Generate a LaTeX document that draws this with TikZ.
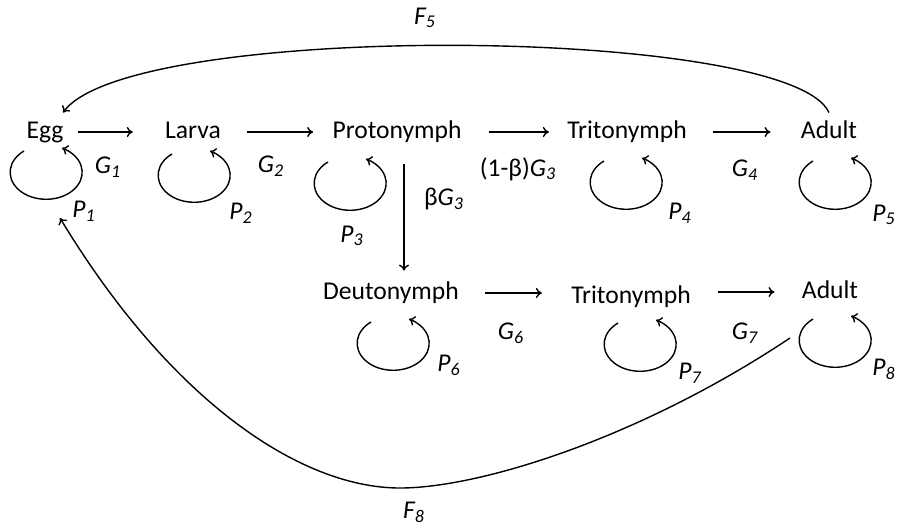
\documentclass[tikz,border=0pt]{standalone}
\usepackage{fontspec}
\setmainfont{Carlito}
\usetikzlibrary{arrows.meta}

\begin{document}
\begin{tikzpicture}[
  x=0.5pt, y=-0.5pt,
  stage/.style={font=\fontsize{12.8}{15}\selectfont, inner sep=0pt, text height=9pt, text depth=3pt},
  rate/.style={font=\fontsize{12.8}{15}\selectfont, inner sep=0pt},
  flow/.style={-{To[length=3pt,width=5pt]}, line width=0.7pt},
  loopy/.style={flow}
]
  \useasboundingbox (0,0) rectangle (898,526);
  % stages, upper row
  \node[stage] (egg)    at (45,132)  {Egg};
  \node[stage] (larva)  at (193,132) {Larva};
  \node[stage] (proto)  at (397,132) {Protonymph};
  \node[stage] (tritoA) at (627,132) {Tritonymph};
  \node[stage] (adultA) at (829,132) {Adult};
  % stages, lower row
  \node[stage] (deuto)  at (391,293) {Deutonymph};
  \node[stage] (tritoB) at (631,297) {Tritonymph};
  \node[stage] (adultB) at (830,292) {Adult};

  % growth
  \draw[flow, shorten <=7pt, shorten >=16pt] (egg.east) -- (larva.west);
  \draw[flow, shorten <=13pt, shorten >=9.5pt] (larva.east) -- (proto.west);
  \draw[flow, shorten <=13.5pt, shorten >=9pt] (proto.east) -- (tritoA.west);
  \draw[flow, shorten <=13pt, shorten >=15pt] (tritoA.east) -- (adultA.west);
  \draw[flow, shorten <=10pt, shorten >=5pt] ([xshift=3.5pt]proto.south) -- ([xshift=3.5pt]proto.south |- deuto.north);
  \draw[flow, shorten <=13pt, shorten >=14.5pt] (deuto.east) -- (deuto.east -| tritoB.west);
  \draw[flow, shorten <=13.5pt, shorten >=13.5pt] (tritoB.east |- adultB.west) -- (adultB.west);

  % staying in the stage
  \draw[loopy] ([shift={(-21,19)}]egg.center) arc[start angle=128, end angle=424, x radius=18pt, y radius=13.5pt];
  \draw[loopy] ([shift={(-21,22)}]larva.center) arc[start angle=128, end angle=424, x radius=18pt, y radius=13.5pt];
  \draw[loopy] ([shift={(-69,30)}]proto.center) arc[start angle=128, end angle=424, x radius=18pt, y radius=13.5pt];
  \draw[loopy] ([shift={(-23,29)}]tritoA.center) arc[start angle=128, end angle=424, x radius=18pt, y radius=13.5pt];
  \draw[loopy] ([shift={(-16,29)}]adultA.center) arc[start angle=128, end angle=424, x radius=18pt, y radius=13.5pt];
  \draw[loopy] ([shift={(-20,29)}]deuto.center) arc[start angle=128, end angle=424, x radius=18pt, y radius=13.5pt];
  \draw[loopy] ([shift={(-13,26)}]tritoB.center) arc[start angle=128, end angle=424, x radius=18pt, y radius=13.5pt];
  \draw[loopy] ([shift={(-17,27)}]adultB.center) arc[start angle=128, end angle=424, x radius=18pt, y radius=13.5pt];

  % fecundity
  \draw[flow] ([yshift=3.5pt]adultA.north) .. controls +(-39,-87) and +(67,-92) .. ([shift={(18,-7)}]egg.north);
  \draw[flow] ([shift={(-40,46)}]adultB.center) .. controls +(-150,100) and +(80,0) .. (400,488)
    .. controls +(-100,0) and +(110,182) .. ([shift={(15,86)}]egg.center);

  % rates
  \node[rate] (g1) at (108,167) {\itshape G\textsubscript{1}};
  \node[rate] (g2) at (271,166) {\itshape G\textsubscript{2}};
  \node[rate] (g3a) at (518,169) {(1-β)\textit{G}\textsubscript{\textit{3}}};
  \node[rate] (g3b) at (444,199) {β\textit{G}\textsubscript{\textit{3}}};
  \node[rate] (g4) at (745,170) {\itshape G\textsubscript{4}};
  \node[rate] (g6) at (511,333) {\itshape G\textsubscript{6}};
  \node[rate] (g7) at (745,333) {\itshape G\textsubscript{7}};
  \node[rate] (p1) at (84,211)  {\itshape P\textsubscript{1}};
  \node[rate] (p2) at (241,213) {\itshape P\textsubscript{2}};
  \node[rate] (p3) at (352,236) {\itshape P\textsubscript{3}};
  \node[rate] (p4) at (680,213) {\itshape P\textsubscript{4}};
  \node[rate] (p5) at (884,215) {\itshape P\textsubscript{5}};
  \node[rate] (p6) at (449,365) {\itshape P\textsubscript{6}};
  \node[rate] (p7) at (690,373) {\itshape P\textsubscript{7}};
  \node[rate] (p8) at (884,369) {\itshape P\textsubscript{8}};
  \node[rate] (f5) at (425,18)  {\itshape F\textsubscript{5}};
  \node[rate] (f8) at (414,512) {\itshape F\textsubscript{8}};
\end{tikzpicture}
\end{document}
